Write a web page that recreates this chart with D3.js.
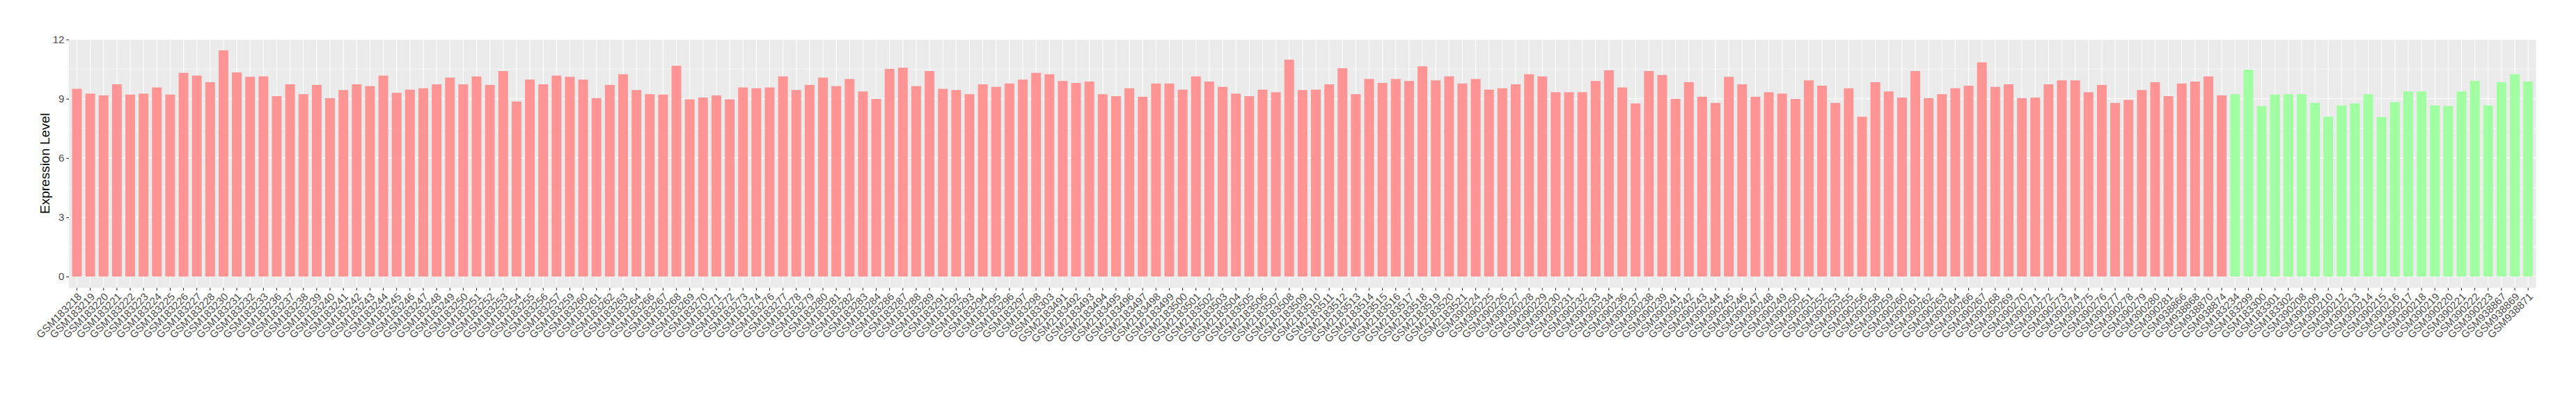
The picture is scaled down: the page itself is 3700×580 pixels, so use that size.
<!DOCTYPE html>
<html>
<head>
<meta charset="utf-8">
<script src="https://cdn.jsdelivr.net/npm/d3@7"></script>
<style>
  html, body { margin: 0; padding: 0; background: #ffffff; }
  svg { display: block; }
  text { font-family: "Liberation Sans", Arial, Helvetica, sans-serif; }
</style>
</head>
<body>
<svg id="chart" width="3700" height="580"></svg>
<script>
// ---- data ----
const redSamples = [
  "GSM183218","GSM183219","GSM183220","GSM183221","GSM183222","GSM183223","GSM183224","GSM183225","GSM183226","GSM183227","GSM183228",
  "GSM183230","GSM183231","GSM183232","GSM183233",
  "GSM183236","GSM183237","GSM183238","GSM183239","GSM183240","GSM183241","GSM183242","GSM183243","GSM183244","GSM183245","GSM183246",
  "GSM183247","GSM183248","GSM183249","GSM183250","GSM183251","GSM183252","GSM183253","GSM183254","GSM183255","GSM183256","GSM183257",
  "GSM183259","GSM183260","GSM183261","GSM183262","GSM183263","GSM183264",
  "GSM183266","GSM183267","GSM183268","GSM183269","GSM183270","GSM183271","GSM183272","GSM183273","GSM183274",
  "GSM183276","GSM183277","GSM183278","GSM183279","GSM183280","GSM183281","GSM183282","GSM183283","GSM183284",
  "GSM183286","GSM183287","GSM183288","GSM183289",
  "GSM183291","GSM183292","GSM183293","GSM183294","GSM183295","GSM183296","GSM183297","GSM183298",
  "GSM183303",
  "GSM2183491","GSM2183492","GSM2183493","GSM2183494","GSM2183495","GSM2183496","GSM2183497","GSM2183498","GSM2183499","GSM2183500",
  "GSM2183501","GSM2183502","GSM2183503","GSM2183504","GSM2183505","GSM2183506","GSM2183507","GSM2183508","GSM2183509","GSM2183510",
  "GSM2183511","GSM2183512","GSM2183513","GSM2183514","GSM2183515","GSM2183516","GSM2183517","GSM2183518","GSM2183519","GSM2183520","GSM2183521",
  "GSM390224","GSM390225","GSM390226","GSM390227","GSM390228","GSM390229","GSM390230","GSM390231","GSM390232","GSM390233","GSM390234",
  "GSM390236","GSM390237","GSM390238","GSM390239",
  "GSM390241","GSM390242","GSM390243","GSM390244","GSM390245","GSM390246","GSM390247","GSM390248","GSM390249","GSM390250","GSM390251","GSM390252","GSM390253",
  "GSM390255","GSM390256",
  "GSM390258","GSM390259","GSM390260","GSM390261","GSM390262","GSM390263","GSM390264",
  "GSM390266","GSM390267","GSM390268","GSM390269","GSM390270","GSM390271","GSM390272","GSM390273","GSM390274","GSM390275",
  "GSM390276","GSM390277","GSM390278","GSM390279","GSM390280","GSM390281",
  "GSM938866","GSM938868","GSM938870","GSM938874"
];
const redValues = [
  9.50, 9.26, 9.17, 9.73, 9.21, 9.26, 9.57, 9.21, 10.31, 10.17, 9.84,
  11.45, 10.33, 10.11, 10.13,
  9.13, 9.73, 9.23, 9.70, 9.03, 9.44, 9.73, 9.64, 10.17, 9.30, 9.46,
  9.53, 9.73, 10.07, 9.73, 10.13, 9.70, 10.40, 8.86, 9.97, 9.73, 10.17,
  10.11, 9.97, 9.03, 9.70, 10.24, 9.44,
  9.23, 9.21, 10.67, 8.97, 9.06, 9.17, 8.97, 9.57, 9.53,
  9.57, 10.13, 9.44, 9.70, 10.07, 9.64, 10.00, 9.37, 8.99,
  10.51, 10.57, 9.64, 10.40,
  9.50, 9.44, 9.23, 9.73, 9.60, 9.77, 9.97, 10.31,
  10.24,
  9.90, 9.80, 9.87, 9.23, 9.13, 9.53, 9.10, 9.77, 9.77, 9.46,
  10.13, 9.87, 9.60, 9.26, 9.13, 9.46, 9.33, 10.98, 9.44, 9.46,
  9.73, 10.54, 9.23, 10.00, 9.80, 10.00, 9.90, 10.64, 9.93, 10.13, 9.77,
  10.00, 9.46, 9.53, 9.73, 10.24, 10.13, 9.33, 9.33, 9.33, 9.90, 10.44,
  9.57, 8.76, 10.40, 10.20,
  8.99, 9.84, 9.10, 8.79, 10.11, 9.73, 9.10, 9.33, 9.26, 8.99, 9.93, 9.66, 8.79,
  9.53, 8.09,
  9.84, 9.37, 9.06, 10.40, 9.03, 9.23, 9.53,
  9.66, 10.84, 9.60, 9.73, 9.03, 9.06, 9.73, 9.93, 9.93, 9.33,
  9.70, 8.79, 8.94, 9.44, 9.84, 9.13,
  9.77, 9.87, 10.13, 9.17
];
const greenSamples = [
  "GSM183234","GSM183299","GSM183300","GSM183301","GSM183302",
  "GSM390208","GSM390209","GSM390210",
  "GSM390212","GSM390213","GSM390214","GSM390215","GSM390216","GSM390217","GSM390218","GSM390219","GSM390220","GSM390221","GSM390222","GSM390223",
  "GSM938867","GSM938869","GSM938871"
];
const greenValues = [
  9.23, 10.47, 8.63, 9.21, 9.23,
  9.23, 8.79, 8.09,
  8.66, 8.76, 9.23, 8.07, 8.83, 9.37, 9.37, 8.66, 8.63, 9.37, 9.90, 8.66,
  9.84, 10.24, 9.87
];
const yTicks = [0, 3, 6, 9, 12];
const yMinorTicks = [1.5, 4.5, 7.5, 10.5];
const yTitle = "Expression Level";

// ---- build ----
const categories = redSamples.concat(greenSamples);
const rows = redSamples.map((s, i) => ({ sample: s, value: redValues[i], group: "red" }))
  .concat(greenSamples.map((s, i) => ({ sample: s, value: greenValues[i], group: "green" })));
const colors = { red: "#FF9494", green: "#A0FFA0" };

const panel = { left: 99, right: 3642.7, top: 56, bottom: 413.3 };
const svg = d3.select("#chart");
svg.append("rect").attr("width", 3700).attr("height", 580).attr("fill", "#ffffff");

const maxV = d3.max(rows, d => d.value);
const expand = 0.05 * maxV;
const y = d3.scaleLinear().domain([-expand, maxV + expand]).range([panel.bottom, panel.top]);
const x = d3.scaleBand().domain(categories).range([panel.left, panel.right])
  .paddingInner(0.27).paddingOuter(0.235);
const cx = d => x(d) + x.bandwidth() / 2;

// panel background
svg.append("rect")
  .attr("x", panel.left).attr("y", panel.top)
  .attr("width", panel.right - panel.left).attr("height", panel.bottom - panel.top)
  .attr("fill", "#EBEBEB");

const grid = svg.append("g");
grid.selectAll("line.minor").data(yMinorTicks).enter().append("line")
  .attr("x1", panel.left).attr("x2", panel.right)
  .attr("y1", d => y(d)).attr("y2", d => y(d))
  .attr("stroke", "#ffffff").attr("stroke-width", 0.55);
grid.selectAll("line.major").data(yTicks).enter().append("line")
  .attr("x1", panel.left).attr("x2", panel.right)
  .attr("y1", d => y(d)).attr("y2", d => y(d))
  .attr("stroke", "#ffffff").attr("stroke-width", 1.1);
grid.selectAll("line.vx").data(categories).enter().append("line")
  .attr("x1", d => cx(d)).attr("x2", d => cx(d))
  .attr("y1", panel.top).attr("y2", panel.bottom)
  .attr("stroke", "#ffffff").attr("stroke-width", 1.1);

// bars
svg.append("g").selectAll("rect").data(rows).enter().append("rect")
  .attr("x", d => x(d.sample))
  .attr("width", x.bandwidth())
  .attr("y", d => y(d.value))
  .attr("height", d => y(0) - y(d.value))
  .attr("fill", d => colors[d.group]);

// y axis
const yAxis = d3.axisLeft(y).tickValues(yTicks).tickSize(3.7).tickPadding(3).tickFormat(d3.format("d"));
const gy = svg.append("g").attr("transform", `translate(${panel.left},0)`).call(yAxis);
gy.select(".domain").remove();
gy.selectAll(".tick line").attr("stroke", "#333333").attr("stroke-width", 1.1);
gy.selectAll(".tick text").attr("fill", "#4D4D4D").style("font-size", "15px")
  .style("font-family", "'Liberation Sans', Arial, sans-serif");

// x axis
const xAxis = d3.axisBottom(x).tickSize(3.7).tickPadding(2);
const gx = svg.append("g").attr("transform", `translate(0,${panel.bottom})`).call(xAxis);
gx.select(".domain").remove();
gx.selectAll(".tick line").attr("stroke", "#333333").attr("stroke-width", 1.1);
gx.selectAll(".tick text")
  .attr("fill", "#4D4D4D")
  .style("font-size", "15px")
  .style("font-family", "'Liberation Sans', Arial, sans-serif")
  .attr("text-anchor", "end")
  .attr("x", 0).attr("y", 6).attr("dy", "0.72em")
  .attr("transform", "rotate(-45, 0, 6)");

// y title
svg.append("text")
  .attr("transform", `translate(71, ${(panel.top + panel.bottom) / 2}) rotate(-90)`)
  .attr("text-anchor", "middle")
  .attr("fill", "#000000")
  .style("font-size", "19px")
  .text(yTitle);
</script>
</body>
</html>
